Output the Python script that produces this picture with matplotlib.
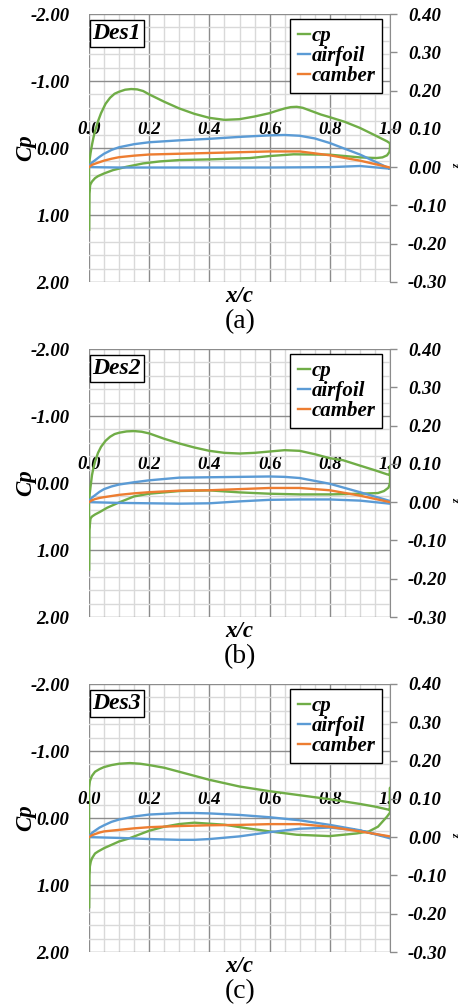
import numpy as np
import matplotlib
matplotlib.use("Agg")
import matplotlib.pyplot as plt
from matplotlib.ticker import MultipleLocator, FormatStrFormatter

plt.rcParams['font.family'] = ['Liberation Serif', 'DejaVu Serif']
plt.rcParams['axes.unicode_minus'] = False

GREEN = '#70ad47'
BLUE = '#5b9bd5'
ORANGE = '#ed7d31'

# ---- Des1 ----
cp1_x = [0.0, 0.0, 0.002, 0.005, 0.01, 0.015, 0.02, 0.03, 0.04, 0.055, 0.07, 0.085, 0.10,
         0.12, 0.14, 0.16, 0.18, 0.20, 0.25, 0.30, 0.35, 0.40, 0.45, 0.50, 0.55, 0.60,
         0.62, 0.65, 0.67, 0.69, 0.71, 0.74, 0.77, 0.80, 0.85, 0.90, 0.95, 0.99,
         1.0, 1.0, 0.998, 0.99, 0.975, 0.955,
         0.90, 0.80, 0.68, 0.60, 0.535, 0.40, 0.30, 0.236, 0.18, 0.125, 0.08, 0.05, 0.03,
         0.02, 0.01, 0.004, 0.001, 0.0]
cp1 = [1.22, 0.28, 0.18, 0.08, -0.05, -0.16, -0.25, -0.40, -0.52, -0.66, -0.75, -0.81,
       -0.84, -0.87, -0.88, -0.875, -0.85, -0.80, -0.69, -0.59, -0.51, -0.45, -0.42, -0.43,
       -0.47, -0.52, -0.55, -0.59, -0.61, -0.615, -0.60, -0.55, -0.50, -0.46,
       -0.39, -0.30, -0.19, -0.10, -0.07, 0.0, 0.06, 0.11, 0.14, 0.15,
       0.14, 0.10, 0.094, 0.12, 0.15, 0.17, 0.18, 0.20, 0.23, 0.28, 0.33, 0.38, 0.42,
       0.45, 0.50, 0.55, 0.68, 1.22]
af1_x = [1.0, 0.9, 0.8, 0.75, 0.7, 0.65, 0.6, 0.5, 0.4, 0.3, 0.2, 0.15, 0.1, 0.075, 0.05,
         0.035, 0.02, 0.01, 0.005, 0.0,
         0.1, 0.2, 0.4, 0.6, 0.8, 0.9, 1.0]
af1 = [-0.004, 0.033, 0.063, 0.075, 0.082, 0.084, 0.083, 0.079, 0.074, 0.070, 0.065, 0.060,
       0.052, 0.045, 0.035, 0.027, 0.018, 0.012, 0.008, 0.0,
       -0.001, -0.001, -0.001, -0.001, 0.0, 0.003, -0.004]
cb1_x = [0.0, 0.01, 0.02, 0.035, 0.05, 0.075, 0.1, 0.15, 0.2, 0.3, 0.4, 0.5, 0.6, 0.7,
         0.8, 0.9, 1.0]
cb1 = [0.0, 0.006, 0.009, 0.013, 0.017, 0.022, 0.026, 0.030, 0.033, 0.035, 0.037, 0.039,
       0.041, 0.041, 0.031, 0.017, -0.001]

# ---- Des2 ----
cp2_x = [0.0, 0.0, 0.002, 0.005, 0.01, 0.015, 0.02, 0.03, 0.04, 0.055, 0.07, 0.085, 0.10,
         0.125, 0.15, 0.175, 0.20, 0.25, 0.30, 0.35, 0.40, 0.45, 0.50, 0.55, 0.60, 0.65,
         0.70, 0.75, 0.80, 0.844, 0.90, 0.95, 0.99,
         1.0, 1.0, 1.0, 0.995, 0.98, 0.96,
         0.90, 0.80, 0.70, 0.60, 0.50, 0.40, 0.30, 0.20, 0.15, 0.10, 0.06, 0.037, 0.02,
         0.01, 0.005, 0.001, 0.0]
cp2 = [1.29, 0.30, 0.18, 0.06, -0.12, -0.23, -0.32, -0.45, -0.54, -0.63, -0.69, -0.73,
       -0.75, -0.77, -0.775, -0.765, -0.74, -0.66, -0.59, -0.53, -0.48, -0.45, -0.44, -0.45,
       -0.47, -0.49, -0.48, -0.43, -0.37, -0.34, -0.26, -0.19, -0.13,
       -0.12, -0.25, 0.0, 0.07, 0.12, 0.15,
       0.16, 0.17, 0.17, 0.16, 0.14, 0.11, 0.12, 0.16, 0.20, 0.29, 0.37, 0.43, 0.47,
       0.50, 0.53, 0.70, 1.29]
af2_x = [1.0, 0.9, 0.8, 0.7, 0.65, 0.6, 0.5, 0.4, 0.3, 0.2, 0.15, 0.1, 0.075, 0.05, 0.035,
         0.02, 0.01, 0.005, 0.0,
         0.1, 0.2, 0.3, 0.4, 0.5, 0.6, 0.7, 0.8, 0.9, 1.0]
af2 = [0.003, 0.026, 0.048, 0.063, 0.066, 0.067, 0.066, 0.065, 0.064, 0.057, 0.052, 0.046,
       0.041, 0.034, 0.027, 0.018, 0.012, 0.008, 0.0,
       -0.002, -0.003, -0.004, -0.003, 0.002, 0.006, 0.007, 0.007, 0.004, -0.004]
cb2_x = [0.0, 0.01, 0.02, 0.035, 0.05, 0.075, 0.1, 0.15, 0.2, 0.3, 0.4, 0.5, 0.6, 0.7,
         0.8, 0.9, 1.0]
cb2 = [0.0, 0.005, 0.008, 0.011, 0.013, 0.016, 0.019, 0.023, 0.026, 0.030, 0.031, 0.034,
       0.037, 0.037, 0.031, 0.017, 0.0]

# ---- Des3 ----
cp3_x = [0.0, 0.0, 0.003, 0.007, 0.01, 0.02, 0.035, 0.05, 0.075, 0.10, 0.136, 0.17, 0.20,
         0.25, 0.30, 0.35, 0.40, 0.50, 0.60, 0.70, 0.80, 0.90, 0.95, 0.99,
         1.0, 1.0, 1.0, 0.99,
         0.96, 0.93, 0.89, 0.80, 0.69, 0.60, 0.52, 0.45, 0.35, 0.30, 0.25, 0.20, 0.13,
         0.10, 0.05, 0.03, 0.02, 0.01, 0.006, 0.003, 0.001, 0.0]
cp3 = [1.33, -0.45, -0.55, -0.60, -0.63, -0.69, -0.73, -0.76, -0.79, -0.81, -0.82, -0.81,
       -0.79, -0.75, -0.69, -0.63, -0.57, -0.47, -0.40, -0.34, -0.28, -0.21, -0.17, -0.13,
       -0.12, -0.45, -0.08, -0.02,
       0.13, 0.20, 0.23, 0.27, 0.25, 0.20, 0.15, 0.10, 0.07, 0.09, 0.13, 0.19, 0.31,
       0.35, 0.45, 0.50, 0.53, 0.60, 0.65, 0.72, 0.85, 1.33]
af3_x = [1.0, 0.9, 0.8, 0.7, 0.6, 0.5, 0.4, 0.35, 0.3, 0.2, 0.15, 0.1, 0.075, 0.05, 0.035,
         0.02, 0.01, 0.005, 0.0,
         0.1, 0.2, 0.3, 0.35, 0.4, 0.5, 0.6, 0.7, 0.8, 0.9, 1.0]
af3 = [-0.003, 0.018, 0.032, 0.044, 0.052, 0.058, 0.062, 0.063, 0.063, 0.059, 0.054, 0.046,
       0.040, 0.031, 0.025, 0.017, 0.011, 0.007, 0.0,
       -0.002, -0.005, -0.007, -0.007, -0.005, 0.002, 0.013, 0.022, 0.025, 0.017, 0.0]
cb3_x = [0.0, 0.01, 0.02, 0.035, 0.05, 0.075, 0.1, 0.15, 0.2, 0.3, 0.4, 0.5, 0.6, 0.7,
         0.8, 0.9, 1.0]
cb3 = [0.0, 0.005, 0.008, 0.012, 0.015, 0.017, 0.019, 0.023, 0.026, 0.029, 0.031, 0.032,
       0.034, 0.034, 0.027, 0.015, 0.002]

names = ['Des1', 'Des2', 'Des3']
captions = ['(a)', '(b)', '(c)']
series = [(cp1_x, cp1, af1_x, af1, cb1_x, cb1),
          (cp2_x, cp2, af2_x, af2, cb2_x, cb2),
          (cp3_x, cp3, af3_x, af3, cb3_x, cb3)]

bold_it = dict(fontweight='bold', fontstyle='italic')
GRIDC = '#d9d9d9'
MAJC = '#8c8c8c'
TICKFS = 13.5

fig = plt.figure(figsize=(4.61, 10.05), dpi=100)

W, H = 461.0, 1005.0
tops = [14, 349, 684]

for k in range(3):
    cpx, cpy, afx, afy, cbx, cby = series[k]
    top = tops[k]
    ax = fig.add_axes([89 / W, 1 - (top + 268) / H, 301 / W, 268 / H])
    ax.set_xlim(0, 1)
    ax.set_ylim(2, -2)
    ax.set_axisbelow(True)

    ax.xaxis.set_major_locator(MultipleLocator(0.2))
    ax.xaxis.set_minor_locator(MultipleLocator(0.05))
    ax.yaxis.set_major_locator(MultipleLocator(1.0))
    ax.yaxis.set_minor_locator(MultipleLocator(0.2))
    ax.grid(which='minor', color=GRIDC, lw=1.0)
    ax.grid(which='major', color=MAJC, lw=1.0)

    for s in ax.spines.values():
        s.set_visible(False)
    ax.xaxis.tick_top()
    ax.spines['top'].set_position(('data', 0.0))
    ax.xaxis.set_major_formatter(FormatStrFormatter('%.1f'))
    ax.yaxis.set_major_formatter(FormatStrFormatter('%.2f'))
    ax.tick_params(axis='x', which='both', length=0, pad=7, labelsize=TICKFS)
    ax.tick_params(axis='y', which='both', length=0, pad=14, labelsize=TICKFS)
    for lab in ax.get_xticklabels() + ax.get_yticklabels():
        lab.set_fontweight('bold')
        lab.set_fontstyle('italic')

    ax.plot(cpx, cpy, color=GREEN, lw=1.7, label='cp')

    ax.set_ylabel('Cp', fontsize=16.5, **bold_it)
    ax.yaxis.set_label_coords(-0.175, 0.5)
    ax.xaxis.set_label_position('bottom')
    ax.set_xlabel('x/c', fontsize=16.5, **bold_it)
    ax.xaxis.set_label_coords(0.5, -0.015)

    ax.text(0.0925, 0.927, names[k], transform=ax.transAxes, fontsize=17, ha='center',
            va='center', bbox=dict(boxstyle='square,pad=0.12', fc='white', ec='black', lw=1.0),
            **bold_it)

    ax2 = ax.twinx()
    ax2.set_ylim(-0.3, 0.4)
    ax2.yaxis.set_major_locator(MultipleLocator(0.1))
    ax2.yaxis.set_major_formatter(FormatStrFormatter('%.2f'))
    for name, s in ax2.spines.items():
        s.set_visible(name == 'right')
    ax2.spines['right'].set_color(MAJC)
    ax2.tick_params(axis='y', length=5, width=1, color=MAJC, pad=8, labelsize=TICKFS)
    for lab in ax2.get_yticklabels():
        lab.set_fontweight('bold')
        lab.set_fontstyle('italic')
    ax2.plot(afx, afy, color=BLUE, lw=1.7, label='airfoil')
    ax2.plot(cbx, cby, color=ORANGE, lw=1.7, label='camber')
    ax2.set_ylabel('z', fontsize=8, rotation=-90, va='center', ha='center', **bold_it)
    ax2.yaxis.set_label_coords(1.215, 0.44)

    h1, l1 = ax.get_legend_handles_labels()
    h2, l2 = ax2.get_legend_handles_labels()
    leg = ax2.legend(h1 + h2, l1 + l2, loc='upper right', bbox_to_anchor=(0.975, 0.983),
                     fancybox=False, edgecolor='black', framealpha=1,
                     prop=dict(family='Liberation Serif', weight='bold', style='italic', size=15),
                     handlelength=0.6, handletextpad=0.05, labelspacing=0.0,
                     borderpad=0.35, borderaxespad=0)
    leg.get_frame().set_linewidth(1.0)

    fig.text(240 / W, 1 - (top + 308) / H, captions[k], fontsize=20, ha='center', va='center')

fig.savefig('out.png', dpi=100)
